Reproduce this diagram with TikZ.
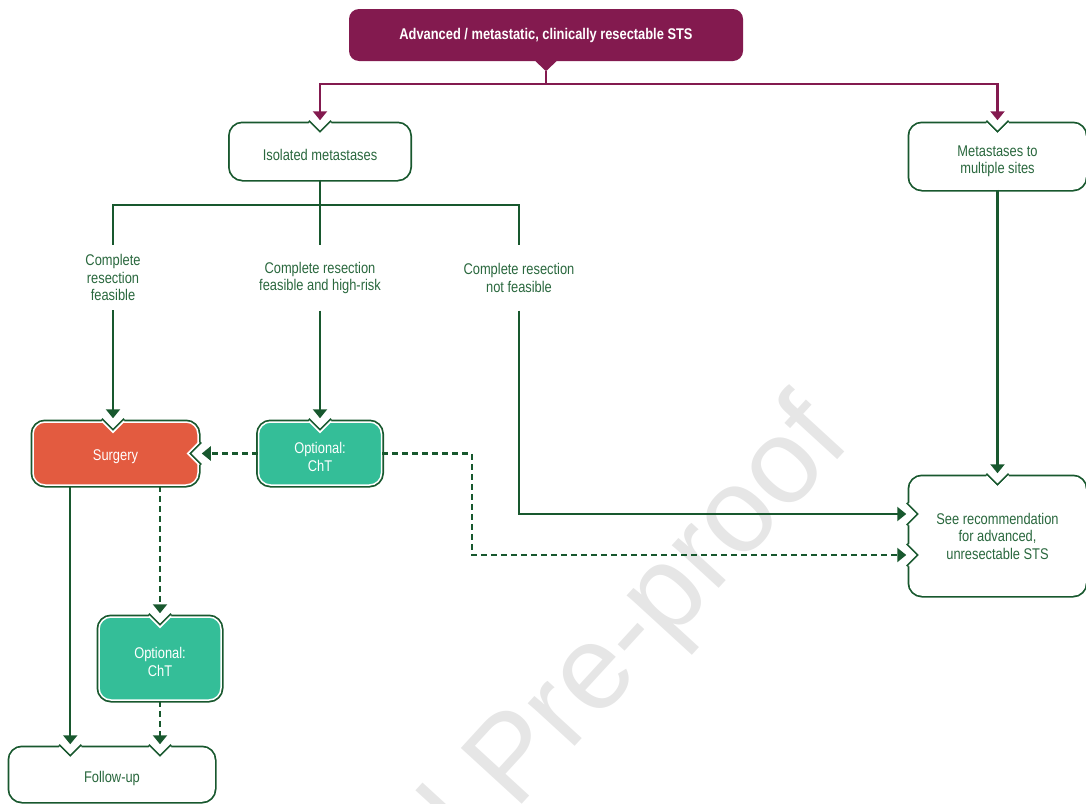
\documentclass[tikz,border=0pt]{standalone}
\usepackage{fontspec}
\setmainfont[FakeStretch=0.83]{Liberation Sans}
\newfontfamily\wmfont{Liberation Sans}
\usetikzlibrary{shapes,arrows.meta,positioning}
\definecolor{headcol}{RGB}{131,26,79}
\definecolor{linegreen}{RGB}{24,88,46}
\definecolor{textgreen}{RGB}{42,104,62}
\definecolor{surgred}{RGB}{227,91,64}
\definecolor{chtteal}{RGB}{52,190,152}
\definecolor{wmgrey}{RGB}{230,230,230}
\tikzstyle{head} = [rectangle, rounded corners=10pt, fill=headcol, text=white, font=\fontsize{15.5}{17.5}\selectfont\bfseries, minimum width=394pt, minimum height=52pt]
\tikzstyle{box} = [rectangle, rounded corners=12pt, fill=white, draw=white, line width=1.5pt, preaction={draw=linegreen, line width=5pt}]
\tikzstyle{surgbox} = [box, fill=surgred]
\tikzstyle{chtbox} = [box, fill=chtteal]
\tikzstyle{intext} = [text=textgreen, align=center, yshift=-3.5pt]
\tikzstyle{inwhite} = [intext, text=white]
\tikzstyle{cond} = [text=textgreen, align=center, minimum height=65pt, inner sep=0pt]
\tikzstyle{line} = [draw=linegreen, line width=2.2pt, -{Triangle[length=9pt,width=14pt]}, shorten >=3pt]
\tikzstyle{dline} = [line, dash pattern=on 6pt off 4pt]
\tikzstyle{plain} = [draw=linegreen, line width=2.2pt]
\tikzstyle{mline} = [draw=headcol, line width=2.2pt, -{Triangle[length=9pt,width=14pt]}, shorten >=3pt]
\tikzstyle{wm} = [text=wmgrey, font=\wmfont\fontsize{120}{130}\selectfont, rotate=47.5, anchor=base, inner sep=0pt]
% V-shaped notch cut into a box border where an arrow comes in
\newcommand{\notch}[2][0]{%
  \begin{scope}[shift={(#2)}, rotate=#1]
    \fill [white] (-11,-3.5) -- (11,-3.5) -- (11,0) -- (0,11) -- (-11,0) -- cycle;
    \draw [linegreen, line width=1.75pt] (-11.2,-2.5) -- (0,8.7) -- (11.2,-2.5);
    \draw [white, line width=1.5pt] (-11,0) -- (0,11) -- (11,0);
  \end{scope}}

\begin{document}
\begin{tikzpicture}[x=1pt, y=-1pt, font=\fontsize{15.5}{17.5}\selectfont]
      \useasboundingbox (0,0) rectangle (1086,803);
      \node [wm] (wm) at (540,784) {Journal Pre-proof};

      % Place nodes
      \node [head] (top) at (546,35) {Advanced / metastatic, clinically resectable STS};
      \node [box, minimum width=179pt, minimum height=55pt, label={[intext]center:Isolated metastases}] (iso) at (320,151.5) {};
      \node [box, minimum width=175pt, minimum height=65pt, label={[intext, yshift=-1.5pt]center:Metastases to\\multiple sites}] (multi) at (997.5,156.5) {};
      \node [cond, yshift=-1pt] (feas) at (113,276.5) {Complete\\resection\\feasible};
      \node [cond, yshift=-1.5pt] (risk) at (320,276.5) {Complete resection\\feasible and high-risk};
      \node [cond, yshift=-1.5pt] (nofeas) at (519,276.5) {Complete resection\\not feasible};
      \node [surgbox, minimum width=165pt, minimum height=63pt, label={[inwhite]center:Surgery}] (surgery) at (115.5,453.5) {};
      \node [chtbox, minimum width=123pt, minimum height=63pt, label={[inwhite]center:Optional:\\ChT}] (cht) at (320,453.5) {};
      \node [box, minimum width=175pt, minimum height=118pt, label={[intext, yshift=3.5pt]center:See recommendation\\for advanced,\\unresectable STS}] (see) at (997.5,536) {};
      \node [chtbox, minimum width=122pt, minimum height=83pt, label={[inwhite]center:Optional:\\ChT}] (chtpost) at (160,658.5) {};
      \node [box, minimum width=204pt, minimum height=53pt, label={[intext]center:Follow-up}] (fup) at (112,774.5) {};

      % Pointer and joints
      \fill [headcol] ([xshift=-10.5pt]top.south) -- ([yshift=-10pt]top.south) -- ([xshift=10.5pt]top.south) -- cycle;
      \coordinate (tip) at ([yshift=-10pt]top.south);
      \coordinate (hub) at ([yshift=-23pt]top.south);
      \coordinate (fork) at ([yshift=-25pt]iso.south);
      \coordinate (jog) at (472,555);
      \coordinate (leftdrop) at ([xshift=38pt]surgery.south west);

      % Notches
      \notch{iso.north}
      \notch{multi.north}
      \notch{feas |- surgery.north}
      \notch[-90]{surgery.east}
      \notch{cht.north}
      \notch{see.north}
      \notch[90]{[yshift=22pt]see.west}
      \notch[90]{[yshift=-19pt]see.west}
      \notch{chtpost.north}
      \notch{leftdrop |- fup.north}
      \notch{chtpost.south |- fup.north}

      % Draw edges
      \path [draw=headcol, line width=2.2pt] (tip) -- (hub);
      \path [mline] (hub) -| (iso);
      \path [mline] (hub) -| (multi);
      \path [plain] (iso) -- (fork);
      \path [plain] (fork) -| (feas);
      \path [plain] (fork) -- (risk);
      \path [plain] (fork) -| (nofeas);
      \path [line] (feas) -- (feas |- surgery.north);
      \path [line] (risk) -- (cht);
      \path [line] (nofeas) |- ([yshift=22pt]see.west);
      \path [line] (multi) -- (see);
      \path [dline] (cht) -- (surgery);
      \path [dline] (cht) -| (jog) -- (jog -| see.west);
      \path [line] (leftdrop) -- (leftdrop |- fup.north);
      \path [dline] (chtpost.north |- surgery.south) -- (chtpost);
      \path [dline] (chtpost) -- (chtpost.south |- fup.north);
\end{tikzpicture}
\end{document}
